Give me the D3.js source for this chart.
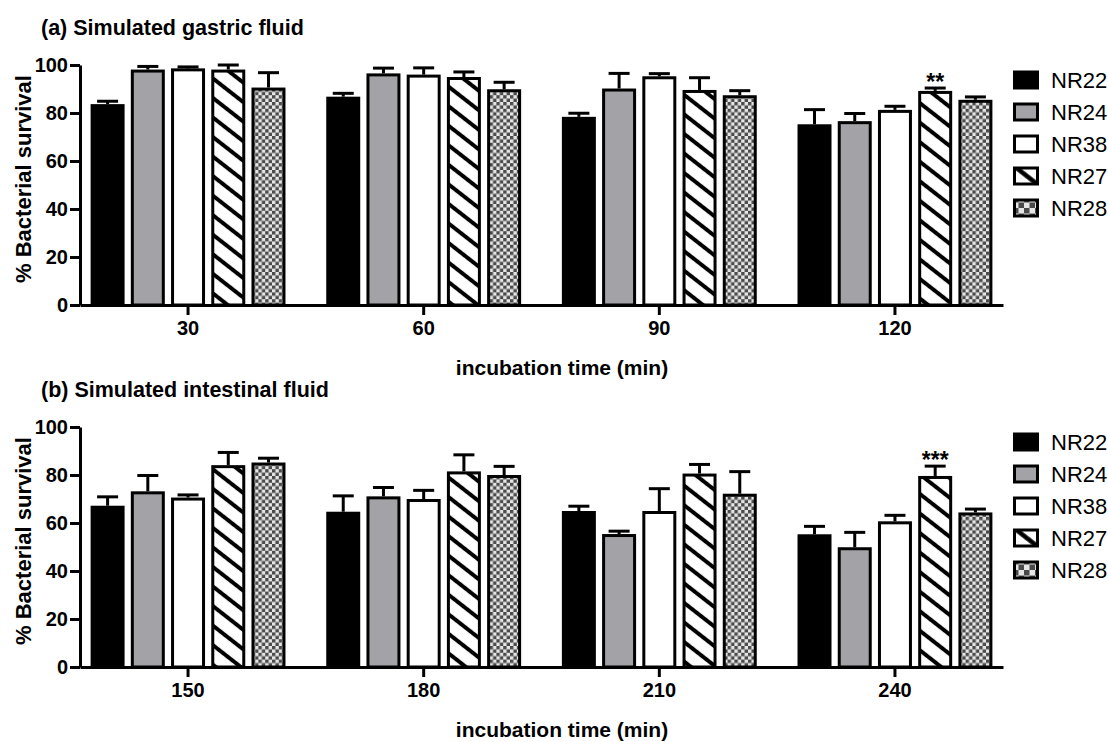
<!DOCTYPE html>
<html>
<head>
<meta charset="utf-8">
<script src="https://cdn.jsdelivr.net/npm/d3@7"></script>
<style>
  body { margin: 0; background: #fff; }
  svg { display: block; }
</style>
</head>
<body>
<div id="chart"></div>
<script>
const strains = ["NR22", "NR24", "NR38", "NR27", "NR28"];
const gastricTimes = ["30", "60", "90", "120"];
const intestinalTimes = ["150", "180", "210", "240"];

// mean % survival, one row per time point, columns follow strains
const gastricMean = [
  [83.7, 98.1, 98.6, 98.1, 90.6],
  [86.8, 96.5, 96.0, 95.0, 89.9],
  [78.4, 90.2, 95.3, 89.6, 87.4],
  [75.3, 76.6, 81.3, 89.2, 85.5]
];
const gastricErr = [
  [1.2, 1.3, 0.6, 1.9, 6.2],
  [1.4, 2.2, 2.8, 2.1, 2.9],
  [1.5, 6.3, 1.1, 5.1, 1.9],
  [6.1, 3.2, 1.5, 1.2, 1.2]
];
const intestinalMean = [
  [67.2, 73.2, 70.6, 84.1, 85.2],
  [64.7, 71.1, 70.0, 81.5, 80.0],
  [65.0, 55.4, 65.0, 80.6, 72.2],
  [55.3, 49.9, 60.7, 79.6, 64.4]
];
const intestinalErr = [
  [3.7, 6.6, 1.1, 5.3, 1.8],
  [6.6, 3.7, 3.6, 6.9, 3.6],
  [2.0, 1.2, 9.3, 3.8, 9.2],
  [3.3, 6.2, 2.5, 4.1, 1.4]
];
const yTicks = [0, 20, 40, 60, 80, 100];
const gastricStars = [{ time: "120", strain: "NR27", text: "**" }];
const intestinalStars = [{ time: "240", strain: "NR27", text: "***" }];

const W = 1108, H = 742;
const FONT = "'Liberation Sans', Arial, Helvetica, sans-serif";

const svg = d3.select("#chart").append("svg")
  .attr("width", W)
  .attr("height", H)
  .attr("font-family", FONT);

// patterns for the two textured strains
const defs = svg.append("defs");
function hatch(id, gap, sw) {
  const p = defs.append("pattern")
    .attr("id", id)
    .attr("patternUnits", "userSpaceOnUse")
    .attr("width", 20)
    .attr("height", gap)
    .attr("patternTransform", "rotate(38)");
  p.append("rect").attr("width", 20).attr("height", gap).attr("fill", "#fff");
  p.append("line")
    .attr("x1", 0).attr("x2", 20)
    .attr("y1", gap / 2).attr("y2", gap / 2)
    .attr("stroke", "#000").attr("stroke-width", sw);
}
function checker(id, cell) {
  const p = defs.append("pattern")
    .attr("id", id)
    .attr("patternUnits", "userSpaceOnUse")
    .attr("width", cell * 2)
    .attr("height", cell * 2);
  p.append("rect").attr("width", cell * 2).attr("height", cell * 2).attr("fill", "#e6e6e6");
  p.append("rect").attr("width", cell).attr("height", cell).attr("fill", "#4a4a4a");
  p.append("rect").attr("x", cell).attr("y", cell).attr("width", cell).attr("height", cell).attr("fill", "#4a4a4a");
}
hatch("hatch", 15.4, 4);
hatch("hatchL", 17, 4.5);
checker("checker", 3.4);
checker("checkerL", 5.5);

const fills = { NR22: "#000", NR24: "#a3a3a7", NR38: "#fff", NR27: "url(#hatch)", NR28: "url(#checker)" };
const legendFills = { NR22: "#000", NR24: "#a3a3a7", NR38: "#fff", NR27: "url(#hatchL)", NR28: "url(#checkerL)" };

function drawPanel(cfg) {
  const oy = cfg.offsetY;
  const g = svg.append("g");

  const x0 = d3.scaleBand()
    .domain(cfg.times)
    .range([80, 1003])
    .paddingInner(0.173)
    .paddingOuter(0.045);
  const x1 = d3.scaleBand()
    .domain(strains)
    .range([0, x0.bandwidth()])
    .paddingInner(0.155)
    .paddingOuter(0);
  const y = d3.scaleLinear()
    .domain([0, 100])
    .range([305 + oy, 65 + oy]);

  const rows = [];
  cfg.times.forEach((t, i) => {
    strains.forEach((s, j) => {
      rows.push({ time: t, strain: s, mean: cfg.mean[i][j], err: cfg.err[i][j] });
    });
  });

  // bars
  g.append("g").selectAll("rect")
    .data(rows)
    .join("rect")
    .attr("x", d => x0(d.time) + x1(d.strain) + 1.5)
    .attr("width", x1.bandwidth() - 3)
    .attr("y", d => y(d.mean) + 1.5)
    .attr("height", d => y(0) - y(d.mean) - 1.5)
    .attr("fill", d => fills[d.strain])
    .attr("stroke", "#000")
    .attr("stroke-width", 3);

  // upper error bars
  const eb = g.append("g").attr("stroke", "#000").attr("stroke-width", 3);
  eb.selectAll("line.v")
    .data(rows)
    .join("line")
    .attr("class", "v")
    .attr("x1", d => x0(d.time) + x1(d.strain) + x1.bandwidth() / 2)
    .attr("x2", d => x0(d.time) + x1(d.strain) + x1.bandwidth() / 2)
    .attr("y1", d => y(d.mean))
    .attr("y2", d => y(d.mean + d.err));
  eb.selectAll("line.cap")
    .data(rows)
    .join("line")
    .attr("class", "cap")
    .attr("x1", d => x0(d.time) + x1(d.strain) + x1.bandwidth() / 2 - 10.5)
    .attr("x2", d => x0(d.time) + x1(d.strain) + x1.bandwidth() / 2 + 10.5)
    .attr("y1", d => y(d.mean + d.err))
    .attr("y2", d => y(d.mean + d.err));

  // significance stars
  g.append("g").selectAll("text")
    .data(cfg.stars)
    .join("text")
    .attr("x", d => x0(d.time) + x1(d.strain) + x1.bandwidth() / 2)
    .attr("y", d => {
      const i = cfg.times.indexOf(d.time), j = strains.indexOf(d.strain);
      return y(cfg.mean[i][j] + cfg.err[i][j]) + 2;
    })
    .attr("text-anchor", "middle")
    .attr("font-size", 23)
    .attr("font-weight", "bold")
    .text(d => d.text);

  // axes
  const yAxis = g.append("g")
    .attr("transform", "translate(80,0)")
    .call(d3.axisLeft(y).tickValues(yTicks).tickSize(10).tickSizeOuter(0).tickPadding(2));
  const xAxis = g.append("g")
    .attr("transform", `translate(0,${y(0)})`)
    .call(d3.axisBottom(x0).tickSize(10).tickSizeOuter(0).tickPadding(6));
  [yAxis, xAxis].forEach(a => {
    a.select(".domain").attr("stroke", "#000").attr("stroke-width", 3);
    a.selectAll(".tick line").attr("stroke", "#000").attr("stroke-width", 3);
    a.selectAll(".tick text")
      .attr("fill", "#000")
      .attr("font-family", FONT)
      .attr("font-size", 20)
      .attr("font-weight", "bold");
  });

  // titles
  g.append("text")
    .attr("x", 41).attr("y", 35 + oy)
    .attr("font-size", 21.5).attr("font-weight", "bold")
    .text(cfg.title);
  g.append("text")
    .attr("x", 562).attr("y", 375 + oy)
    .attr("text-anchor", "middle")
    .attr("font-size", 21).attr("font-weight", "bold")
    .text("incubation time (min)");
  g.append("text")
    .attr("transform", `translate(31,${185 + oy - 6}) rotate(-90)`)
    .attr("text-anchor", "middle")
    .attr("font-size", 22).attr("font-weight", "bold")
    .text("% Bacterial survival");

  // legend
  const lg = g.append("g").attr("transform", `translate(1013,${80 + oy})`);
  const item = lg.selectAll("g")
    .data(strains)
    .join("g")
    .attr("transform", (d, i) => `translate(0,${i * 32})`);
  item.append("rect")
    .attr("x", 1.5).attr("y", -8)
    .attr("width", 23).attr("height", 16)
    .attr("fill", d => legendFills[d])
    .attr("stroke", "#000")
    .attr("stroke-width", 3);
  item.append("text")
    .attr("x", 38).attr("y", 8)
    .attr("font-size", 22)
    .text(d => d);
}

drawPanel({
  title: "(a) Simulated gastric fluid",
  times: gastricTimes, mean: gastricMean, err: gastricErr,
  stars: gastricStars, offsetY: 0
});
drawPanel({
  title: "(b) Simulated intestinal fluid",
  times: intestinalTimes, mean: intestinalMean, err: intestinalErr,
  stars: intestinalStars, offsetY: 362
});
</script>
</body>
</html>
